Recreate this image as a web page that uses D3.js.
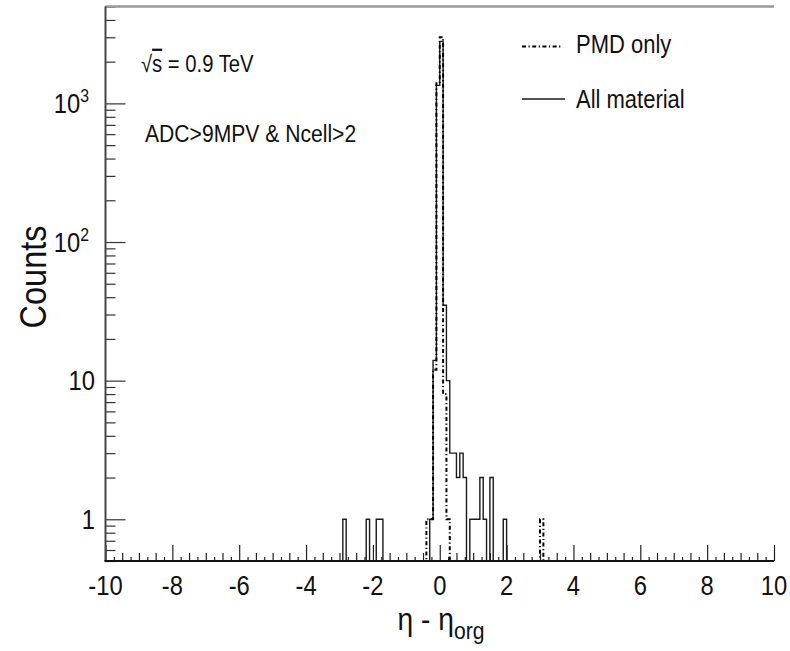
<!DOCTYPE html>
<html>
<head>
<meta charset="utf-8">
<script src="https://cdn.jsdelivr.net/npm/d3@7"></script>
<style>
  body { margin: 0; background: #fff; }
  text { font-family: "Liberation Sans", Arial, sans-serif; fill: #111; }
</style>
</head>
<body>
<div id="chart"></div>
<script>
// eta - eta_org histograms, bin width 0.1 over [-10, 10]
var binWidth = 0.1;
// lower edges of non-empty bins and their counts
var allMaterialBins   = [-2.9, -2.2, -1.9, -1.8, -0.3, -0.2, -0.1, 0.0, 0.1, 0.2, 0.3, 0.4, 0.5, 0.6, 0.7, 0.9, 1.0, 1.1, 1.2, 1.3, 1.5, 1.9];
var allMaterialCounts = [1,    1,    1,    1,    1,    14,   1350, 2800, 35, 10,  3,   3,   2,   3,   2,   1,   1,   1,   2,   1,   2,   1];
var pmdOnlyBins   = [-0.4, -0.3, -0.2, -0.1, 0.0, 0.1, 0.2, 3.0];
var pmdOnlyCounts = [1,    1,    12,   1400, 3000, 8,  1,   1];

var xTickLabels = [-10, -8, -6, -4, -2, 0, 2, 4, 6, 8, 10];
var yTickLabels = [{v: 1, base: "1", sup: ""}, {v: 10, base: "10", sup: ""},
                   {v: 100, base: "10", sup: "2"}, {v: 1000, base: "10", sup: "3"}];
var yMinorTicks = [0.5, 0.6, 0.7, 0.8, 0.9, 2, 3, 4, 5, 6, 7, 8, 9,
                   20, 30, 40, 50, 60, 70, 80, 90, 200, 300, 400, 500, 600, 700, 800, 900,
                   2000, 3000, 4000, 5000];

(function() {
var W = 790, H = 651;
var pL = 105.5, pR = 774, pT = 6.5, pB = 561;
var xMin = -10, xMax = 10, yMin = 0.5, yMax = 5000;
var sx = 0.88;   // ROOT-ish narrow helvetica

var x = d3.scaleLinear().domain([xMin, xMax]).range([pL, pR]);
var y = d3.scaleLog().domain([yMin, yMax]).range([pB, pT]);

var svg = d3.select("#chart").append("svg")
    .attr("width", W).attr("height", H);

function txt(g, px, py, s, size, anchor) {
    return g.append("text")
        .attr("transform", "translate(" + px + "," + py + ") scale(" + sx + ",1)")
        .attr("text-anchor", anchor || "start")
        .style("font-size", size + "px")
        .text(s);
}

// build a step outline over the full range, empty bins sit on the floor
function stepPoints(bins, counts) {
    var n = Math.round((xMax - xMin) / binWidth);
    var full = new Array(n).fill(0);
    bins.forEach(function(b, i) {
        full[Math.round((b - xMin) / binWidth)] = counts[i];
    });
    var pts = [[xMin, yMin]];
    full.forEach(function(c, i) {
        var lo = xMin + i * binWidth, hi = lo + binWidth;
        var v = c > 0 ? c : yMin;
        pts.push([lo, v]);
        pts.push([hi, v]);
    });
    pts.push([xMax, yMin]);
    return pts;
}

var line = d3.line()
    .x(function(d) { return x(d[0]); })
    .y(function(d) { return y(d[1]); });

// histograms
svg.append("path")
    .attr("d", line(stepPoints(allMaterialBins, allMaterialCounts)))
    .style("fill", "none").style("stroke", "#1a1a1a").style("stroke-width", 1.4);
svg.append("path")
    .attr("d", line(stepPoints(pmdOnlyBins, pmdOnlyCounts)))
    .style("fill", "none").style("stroke", "#000").style("stroke-width", 2)
    .style("stroke-dasharray", "4,2.5,1.2,2.5");

// x axis ticks (inward)
function xTicks(vals, len) {
    var g = svg.append("g").attr("transform", "translate(0," + pB + ")")
        .call(d3.axisBottom(x).tickValues(vals).tickSize(-len).tickSizeOuter(0).tickFormat(""));
    g.select(".domain").remove();
    g.selectAll("line").style("stroke", "#222").style("stroke-width", 1.2);
}
var xMid = d3.range(-10, 10.001, 0.5).filter(function(v) { return Math.abs(v % 2) > 1e-6; });
var xSmall = d3.range(-10, 10.001, 0.25).filter(function(v) { return Math.abs(v % 0.5) > 1e-6; });
xTicks(xTickLabels, 16);
xTicks(xMid, 8);
xTicks(xSmall, 4);

// y axis ticks (inward)
function yTicks(vals, len) {
    var g = svg.append("g").attr("transform", "translate(" + pL + ",0)")
        .call(d3.axisLeft(y).tickValues(vals).tickSize(-len).tickSizeOuter(0).tickFormat(""));
    g.select(".domain").remove();
    g.selectAll("line").style("stroke", "#333").style("stroke-width", 1.2);
}
yTicks(yTickLabels.map(function(d) { return d.v; }), 20);
yTicks(yMinorTicks, 10);

// frame
svg.append("line").attr("x1", pL).attr("x2", pR).attr("y1", pT).attr("y2", pT)
    .style("stroke", "#999").style("stroke-width", 2.5);
svg.append("line").attr("x1", pL).attr("x2", pL).attr("y1", pT).attr("y2", pB)
    .style("stroke", "#444").style("stroke-width", 2);
svg.append("line").attr("x1", pL - 1).attr("x2", pR).attr("y1", pB).attr("y2", pB)
    .style("stroke", "#111").style("stroke-width", 2);

// x tick labels
xTickLabels.forEach(function(v) {
    txt(svg, x(v), 595, String(v), 27, "middle");
});

// y tick labels
yTickLabels.forEach(function(d) {
    var py = y(d.v) + 9.5;
    if (d.sup === "") {
        txt(svg, 95, py, d.base, 27, "end");
    } else {
        var t = txt(svg, 89, py, "", 27, "end");
        t.append("tspan").text(d.base);
        t.append("tspan").attr("dy", -11).style("font-size", "18px").text(d.sup);
    }
});

// axis titles
svg.append("text")
    .attr("transform", "translate(45.5,277) rotate(-90) scale(" + sx + ",1)")
    .attr("text-anchor", "middle")
    .style("font-size", "37px")
    .text("Counts");

var xt = txt(svg, 441, 630, "", 32, "middle");
xt.append("tspan").text("\u03b7 - \u03b7");
xt.append("tspan").attr("dy", 9).style("font-size", "24px").text("org");

// annotations
var rs = txt(svg, 141, 72, "", 23, "start");
rs.append("tspan").text("\u221a");
rs.append("tspan").style("text-decoration", "overline").text("s");
rs.append("tspan").text(" = 0.9 TeV");
txt(svg, 145, 141.5, "ADC>9MPV & Ncell>2", 24, "start");

// legend
svg.append("line").attr("x1", 522).attr("x2", 562).attr("y1", 46.5).attr("y2", 46.5)
    .style("stroke", "#000").style("stroke-width", 2)
    .style("stroke-dasharray", "4,2.5,1.2,2.5");
txt(svg, 576, 52.5, "PMD only", 25, "start");
svg.append("line").attr("x1", 522).attr("x2", 565).attr("y1", 99).attr("y2", 99)
    .style("stroke", "#1a1a1a").style("stroke-width", 1.4);
txt(svg, 576, 108, "All material", 25, "start");
})();
</script>
</body>
</html>
